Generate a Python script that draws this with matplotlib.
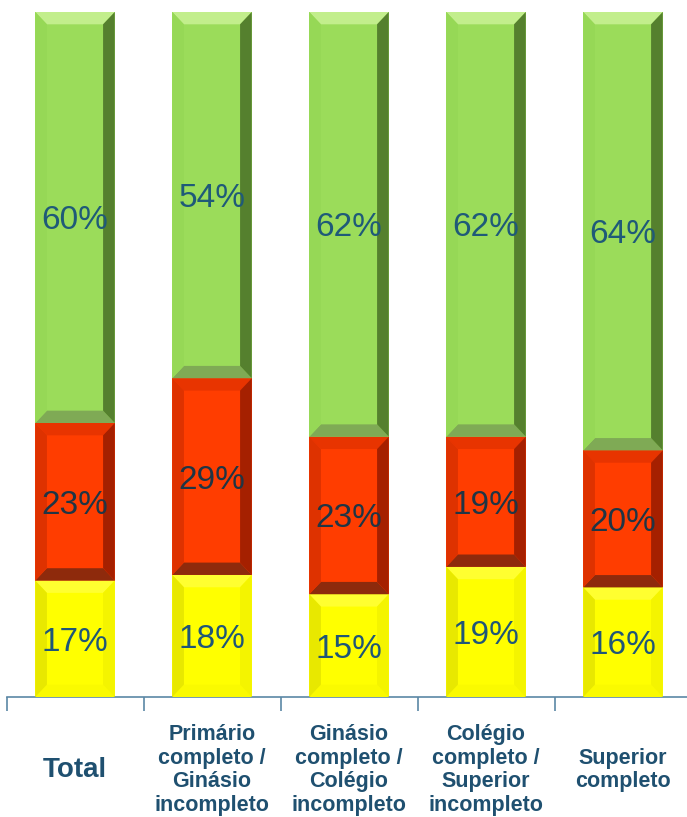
import matplotlib
matplotlib.use("Agg")
import matplotlib.pyplot as plt
from matplotlib.patches import Polygon
from matplotlib.transforms import blended_transform_factory

plt.rcParams['font.family'] = ['Liberation Sans', 'DejaVu Sans']

categories = ["Total",
              "Primário\ncompleto /\nGinásio\nincompleto",
              "Ginásio\ncompleto /\nColégio\nincompleto",
              "Colégio\ncompleto /\nSuperior\nincompleto",
              "Superior\ncompleto"]
yellow_vals = [17, 18, 15, 19, 16]
red_vals = [23, 29, 23, 19, 20]
green_vals = [60, 54, 62, 62, 64]

# base, top bevel, bottom bevel, left, right, label colour
styles = [
    ("#FFFF00", "#FFFF30", "#FAFA00", "#E8E800", "#F4F400", "#1F5678"),
    ("#FF3D00", "#E83400", "#8E2A0C", "#DE3200", "#A52000", "#1F3545"),
    ("#9BDC5A", "#C2EE8C", "#7FAA55", "#96D856", "#55802E", "#1F5A78"),
]

fig = plt.figure(figsize=(6.87, 8.17), dpi=100)
ax = fig.add_axes([6.5 / 687, 120 / 817, 685 / 687, 685 / 817])

x = list(range(len(categories)))
width = 0.58
dx = 0.085
dy = 1.8

bottoms = [0.0] * len(categories)
for vals, st in zip([yellow_vals, red_vals, green_vals], styles):
    heights = []
    for i in x:
        total = yellow_vals[i] + red_vals[i] + green_vals[i]
        heights.append(vals[i] * 100.0 / total)
    bars = ax.bar(x, heights, width, bottom=bottoms, color=st[0],
                  edgecolor="none", zorder=2)
    for b, v in zip(bars, vals):
        x0, y0 = b.get_x(), b.get_y()
        x1, y1 = x0 + b.get_width(), y0 + b.get_height()
        polys = [
            ([(x0, y1), (x1, y1), (x1 - dx, y1 - dy), (x0 + dx, y1 - dy)], st[1]),
            ([(x0, y0), (x1, y0), (x1 - dx, y0 + dy), (x0 + dx, y0 + dy)], st[2]),
            ([(x0, y0), (x0 + dx, y0 + dy), (x0 + dx, y1 - dy), (x0, y1)], st[3]),
            ([(x1, y0), (x1 - dx, y0 + dy), (x1 - dx, y1 - dy), (x1, y1)], st[4]),
        ]
        for pts, c in polys:
            ax.add_patch(Polygon(pts, closed=True, facecolor=c,
                                 edgecolor="none", zorder=3))
        ax.text(b.get_x() + b.get_width() / 2, y0 + b.get_height() / 2 - 0.5,
                "%d%%" % v, ha="center", va="center", fontsize=24,
                color=st[5], zorder=4)
    bottoms = [bt + h for bt, h in zip(bottoms, heights)]

ax.set_xlim(-0.5, len(categories) - 0.5)
ax.set_ylim(0, 100)
for s in ["top", "right", "left"]:
    ax.spines[s].set_visible(False)
ax.spines["bottom"].set_color("#5B87A5")
ax.spines["bottom"].set_linewidth(1.2)
ax.set_yticks([])
ax.set_xticks([i - 0.5 for i in range(len(categories) + 1)])
ax.set_xticklabels([])
ax.tick_params(axis="x", direction="out", length=10, width=1.2,
               color="#5B87A5")

trans = blended_transform_factory(ax.transData, ax.transAxes)
for i, lab in enumerate(categories):
    size = 20 if lab == "Total" else 15.5
    ax.text(i, -0.1066, lab, transform=trans, ha="center", va="center",
            fontsize=size, fontweight="bold", color="#1F5070",
            linespacing=1.15)

fig.savefig("out.png", dpi=100)
